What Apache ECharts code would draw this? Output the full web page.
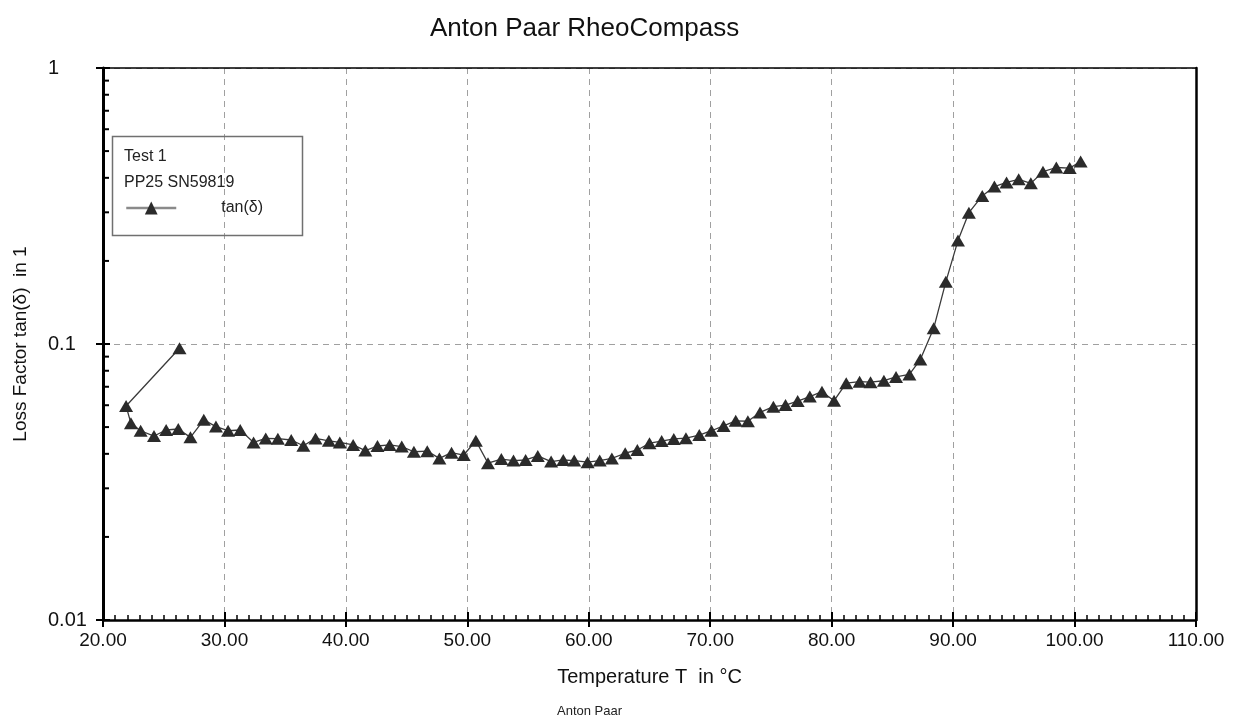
<!DOCTYPE html>
<html>
<head>
<meta charset="utf-8">
<title>Anton Paar RheoCompass</title>
<script src="https://cdn.jsdelivr.net/npm/echarts@6/dist/echarts.min.js"></script>
<style>
  html, body { margin: 0; padding: 0; background: #fff; }
  #chart { width: 1239px; height: 718px; }
</style>
</head>
<body>
<div id="chart"></div>
<script>
// Temperature sweep, measurement order (starts at room temperature, then cooled and heated)
const temperature = [
  26.3, 21.9, 22.3, 23.1, 24.2, 25.2, 26.2, 27.2, 28.3, 29.3,
  30.3, 31.3, 32.4, 33.4, 34.4, 35.5, 36.5, 37.5, 38.6, 39.5,
  40.6, 41.6, 42.6, 43.6, 44.6, 45.6, 46.7, 47.7, 48.7, 49.7,
  50.7, 51.7, 52.8, 53.8, 54.8, 55.8, 56.9, 57.9, 58.8, 59.9,
  60.9, 61.9, 63.0, 64.0, 65.0, 66.0, 67.0, 68.0, 69.1, 70.1,
  71.1, 72.1, 73.1, 74.1, 75.2, 76.2, 77.2, 78.2, 79.2, 80.2,
  81.2, 82.3, 83.2, 84.3, 85.3, 86.4, 87.3, 88.4, 89.4, 90.4,
  91.3, 92.4, 93.4, 94.4, 95.4, 96.4, 97.4, 98.5, 99.6, 100.5
];
const tanDelta = [
  0.0965, 0.0596, 0.0516, 0.0485, 0.0464, 0.0488, 0.0492, 0.0459, 0.0531, 0.0502,
  0.0485, 0.0488, 0.0440, 0.0455, 0.0454, 0.0449, 0.0428, 0.0455, 0.0446, 0.0440,
  0.0431, 0.0411, 0.0427, 0.0431, 0.0425, 0.0407, 0.0409, 0.0385, 0.0404, 0.0396,
  0.0446, 0.0370, 0.0383, 0.0378, 0.0380, 0.0393, 0.0375, 0.0380, 0.0378, 0.0373,
  0.0378, 0.0385, 0.0402, 0.0413, 0.0437, 0.0445, 0.0453, 0.0456, 0.0468, 0.0485,
  0.0505, 0.0527, 0.0525, 0.0565, 0.0593, 0.0601, 0.0621, 0.0645, 0.0672, 0.0623,
  0.0721, 0.0730, 0.0727, 0.0736, 0.0760, 0.0776, 0.0878, 0.114, 0.168, 0.237,
  0.299, 0.344, 0.372, 0.385, 0.395, 0.382, 0.421, 0.436, 0.434, 0.458
];
// Minor tick values on the logarithmic axis
const yMinorTicks = [0.02, 0.03, 0.04, 0.05, 0.06, 0.07, 0.08, 0.09,
                     0.2, 0.3, 0.4, 0.5, 0.6, 0.7, 0.8, 0.9];
const seriesName = 'tan(δ)';
const legendHeader = ['Test 1', 'PP25 SN59819'];

const FONT = '"Liberation Sans", Arial, sans-serif';
const points = temperature.map((t, i) => [t, tanDelta[i]]);

const chart = echarts.init(document.getElementById('chart'), null, { renderer: 'canvas' });

const gridDash = { color: '#a0a0a0', width: 1, type: [6, 5] };

chart.setOption({
  animation: false,
  backgroundColor: '#fff',
  textStyle: { fontFamily: FONT },
  title: {
    text: 'Anton Paar RheoCompass',
    left: 430, top: 16, padding: 0,
    textStyle: { fontFamily: FONT, fontSize: 26, fontWeight: 'normal', color: '#111' }
  },
  grid: { left: 103, right: 43, top: 68, bottom: 98, containLabel: false },
  legend: {
    data: [seriesName],
    left: 125, top: 200,
    itemWidth: 50, itemHeight: 16,
    padding: 0,
    textStyle: { fontFamily: FONT, fontSize: 16, color: '#222', padding: [0, 0, 0, 40] },
    lineStyle: { color: '#8a8a8a', width: 2.5 },
    itemStyle: { color: '#2b2b2b' }
  },
  xAxis: [
    {
      type: 'value', position: 'bottom', min: 20, max: 110, interval: 10,
      name: 'Temperature T  in °C', nameLocation: 'middle', nameGap: 47,
      nameTextStyle: { fontFamily: FONT, fontSize: 20, color: '#111' },
      axisLine: { show: true, lineStyle: { color: '#000', width: 2.5 } },
      axisTick: { show: true, inside: true, length: 8, lineStyle: { color: '#000', width: 2 } },
      minorTick: { show: true, splitNumber: 10, length: 5, lineStyle: { color: '#000', width: 1.5 } },
      splitLine: { show: true, lineStyle: gridDash },
      axisLabel: {
        fontFamily: FONT, fontSize: 19, color: '#111', margin: 11,
        formatter: v => v.toFixed(2)
      }
    },
    {
      type: 'value', position: 'bottom', min: 20, max: 110, interval: 10,
      axisLine: { show: false },
      axisTick: { show: true, inside: false, length: 7, lineStyle: { color: '#000', width: 2 } },
      splitLine: { show: false },
      axisLabel: { show: false }
    },
    {
      type: 'value', position: 'top', min: 20, max: 110, interval: 10,
      axisLine: { show: true, onZero: false, lineStyle: { color: '#000', width: 1.5 } },
      axisTick: { show: false },
      splitLine: { show: false },
      axisLabel: { show: false }
    }
  ],
  yAxis: [
    {
      type: 'log', logBase: 10, position: 'left', min: 0.01, max: 1,
      name: 'Loss Factor tan(δ)  in 1', nameLocation: 'middle', nameGap: 73, nameRotate: 90,
      nameTextStyle: { fontFamily: FONT, fontSize: 19, color: '#111' },
      axisLine: { show: true, onZero: false, lineStyle: { color: '#000', width: 3 } },
      axisTick: { show: true, inside: false, length: 7, lineStyle: { color: '#000', width: 2 } },
      splitLine: { show: true, lineStyle: gridDash },
      axisLabel: {
        fontFamily: FONT, fontSize: 20, color: '#111', align: 'left', margin: 55,
        formatter: v => String(+Number(v).toPrecision(3))
      }
    },
    {
      type: 'log', logBase: 10, position: 'left', min: 0.01, max: 1,
      axisLine: { show: false },
      axisTick: { show: true, inside: true, length: 7, lineStyle: { color: '#000', width: 2 } },
      splitLine: { show: false },
      axisLabel: { show: false }
    },
    {
      type: 'log', logBase: 10, position: 'right', min: 0.01, max: 1,
      axisLine: { show: true, onZero: false, lineStyle: { color: '#000', width: 2.5 } },
      axisTick: { show: false },
      splitLine: { show: false },
      axisLabel: { show: false }
    }
  ],
  series: [
    {
      name: seriesName,
      type: 'line',
      xAxisIndex: 0, yAxisIndex: 0,
      data: points,
      symbol: 'triangle',
      symbolSize: [14, 12],
      showAllSymbol: true,
      lineStyle: { color: '#3a3a3a', width: 1.3 },
      itemStyle: { color: '#2b2b2b' },
      z: 5
    },
    {
      // short inside ticks at the 2..9 positions of each decade
      name: 'yMinor',
      type: 'custom',
      xAxisIndex: 0, yAxisIndex: 0,
      silent: true,
      data: yMinorTicks.map(v => [20, v]),
      renderItem: (params, api) => {
        const p = api.coord([api.value(0), api.value(1)]);
        return {
          type: 'line',
          shape: { x1: p[0], y1: p[1], x2: p[0] + 6, y2: p[1] },
          style: { stroke: '#000', lineWidth: 2 }
        };
      },
      z: 4
    }
  ],
  graphic: [
    {
      type: 'rect', left: 110, top: 134,
      shape: { width: 190, height: 99 },
      style: { fill: 'none', stroke: '#707070', lineWidth: 1.5 },
      z: 10
    },
    {
      type: 'text', left: 124, top: 149,
      style: { text: legendHeader[0], fontFamily: FONT, fontSize: 16, fill: '#222' },
      z: 10
    },
    {
      type: 'text', left: 124, top: 175,
      style: { text: legendHeader[1], fontFamily: FONT, fontSize: 16, fill: '#222' },
      z: 10
    },
    {
      type: 'text', left: 557, top: 705,
      style: { text: 'Anton Paar', fontFamily: FONT, fontSize: 13, fill: '#222' },
      z: 10
    }
  ]
});
</script>
</body>
</html>
